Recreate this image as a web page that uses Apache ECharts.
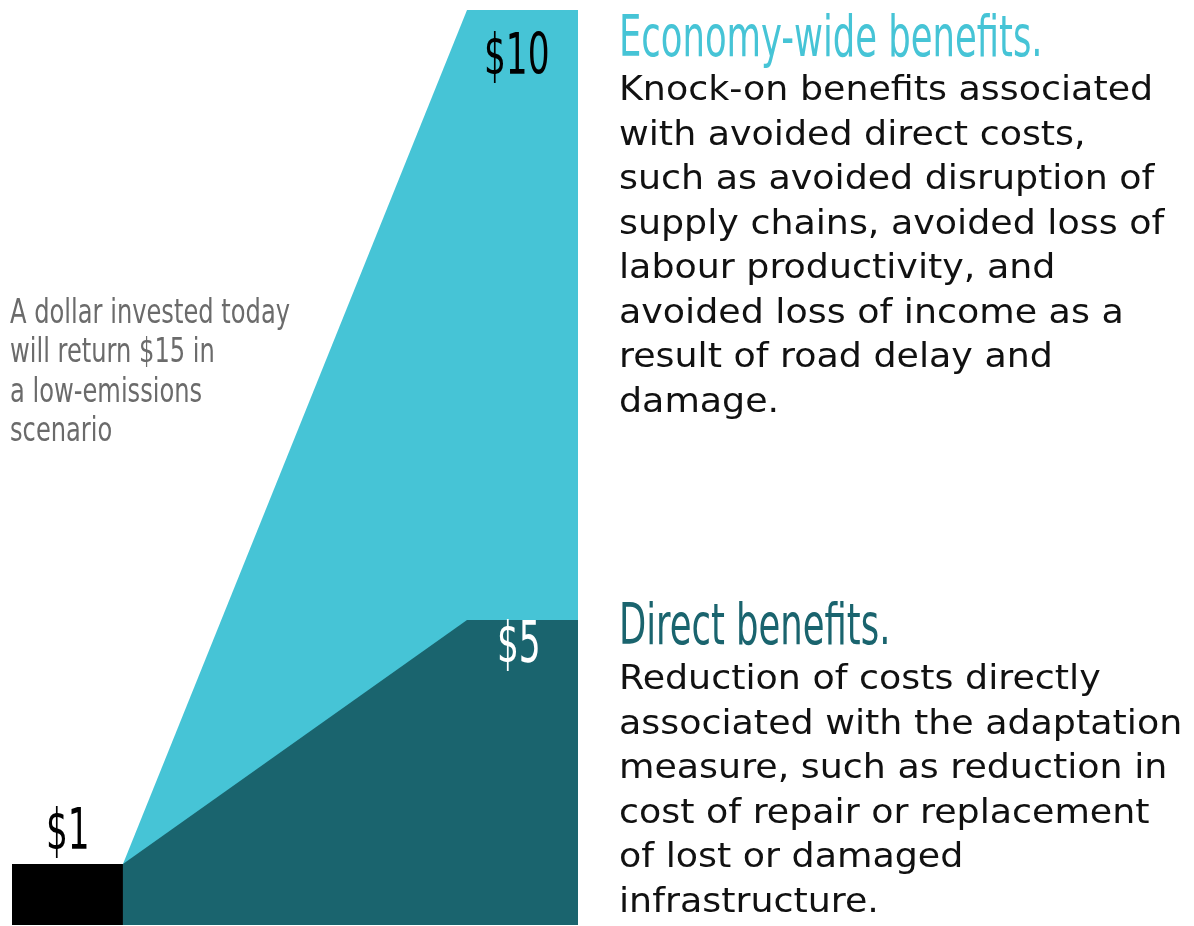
<!DOCTYPE html>
<html style="height: 100%">
<head>
    <meta charset="utf-8">
    <script src="https://cdn.jsdelivr.net/npm/echarts@6/dist/echarts.min.js"></script>
</head>
<body style="height: 100%; margin: 0; background: #fff">
    <div id="main" style="width:1194px;height:926px;"></div>
    <script type="text/javascript">
    // stages along the horizontal axis (investment -> ramp up -> full return)
    var investX = [0, 1];
    var stageX = [1, 4.1, 5.1];
    // dollars returned per dollar invested
    var invest = 1;
    var direct = [1, 5, 5];
    var economy = [0, 10, 10];

    var total = direct.map(function(v, i) { return v + economy[i] });

    var condensed = '"DejaVu Sans Condensed", sans-serif';
    var body = '"DejaVu Sans", sans-serif';
    var light = '#46c4d6';
    var dark = '#1a646e';

    // text helper, narrowed / widened with scaleX to mimic the original fonts
    function txt(x, y, text, size, color, sx, lh) {
        return {
            type: 'text', x: x, y: y, scaleX: sx, z: 100,
            style: {
                text: text, font: size + 'px ' + (sx < 1 ? condensed : body),
                fill: color, lineHeight: lh || size
            }
        };
    }

    var myChart = echarts.init(document.getElementById('main'));
    var option = {
        animation: false,
        grid: { left: 12, right: 616, top: 10, bottom: 1 },
        xAxis: { type: 'value', min: 0, max: 5.1, show: false },
        yAxis: { type: 'value', min: 0, max: 15, show: false },
        series: [{
            type: 'line',
            data: investX.map(function(x) { return [x, invest] }),
            symbol: 'none',
            lineStyle: { width: 0 },
            areaStyle: { color: '#000', opacity: 1 }
        }, {
            type: 'line',
            data: stageX.map(function(x, i) { return [x, total[i]] }),
            symbol: 'none',
            lineStyle: { width: 0 },
            areaStyle: { color: light, opacity: 1 }
        }, {
            type: 'line',
            data: stageX.map(function(x, i) { return [x, direct[i]] }),
            symbol: 'none',
            lineStyle: { width: 0 },
            areaStyle: { color: dark, opacity: 1 }
        }],
        graphic: [
            txt(46, 806, '$' + invest, 57, '#000', 0.67),
            txt(484, 31, '$' + economy[2], 57, '#000', 0.67),
            txt(497, 619, '$' + direct[2], 57, '#fff', 0.67),
            txt(10, 294, 'A dollar invested today\nwill return $' + total[2] + ' in\na low-emissions\nscenario', 34, '#6b6b6b', 0.79, 39.5),
            txt(619, 13, 'Economy-wide benefits.', 57, light, 0.69),
            txt(619, 69, 'Knock-on benefits associated\nwith avoided direct costs,\nsuch as avoided disruption of\nsupply chains, avoided loss of\nlabour productivity, and\navoided loss of income as a\nresult of road delay and\ndamage.', 34, '#111', 1.07, 44.5),
            txt(619, 601, 'Direct benefits.', 57, dark, 0.69),
            txt(619, 658, 'Reduction of costs directly\nassociated with the adaptation\nmeasure, such as reduction in\ncost of repair or replacement\nof lost or damaged\ninfrastructure.', 34, '#111', 1.07, 44.5)
        ]
    };
    myChart.setOption(option);
    </script>
</body>
</html>
